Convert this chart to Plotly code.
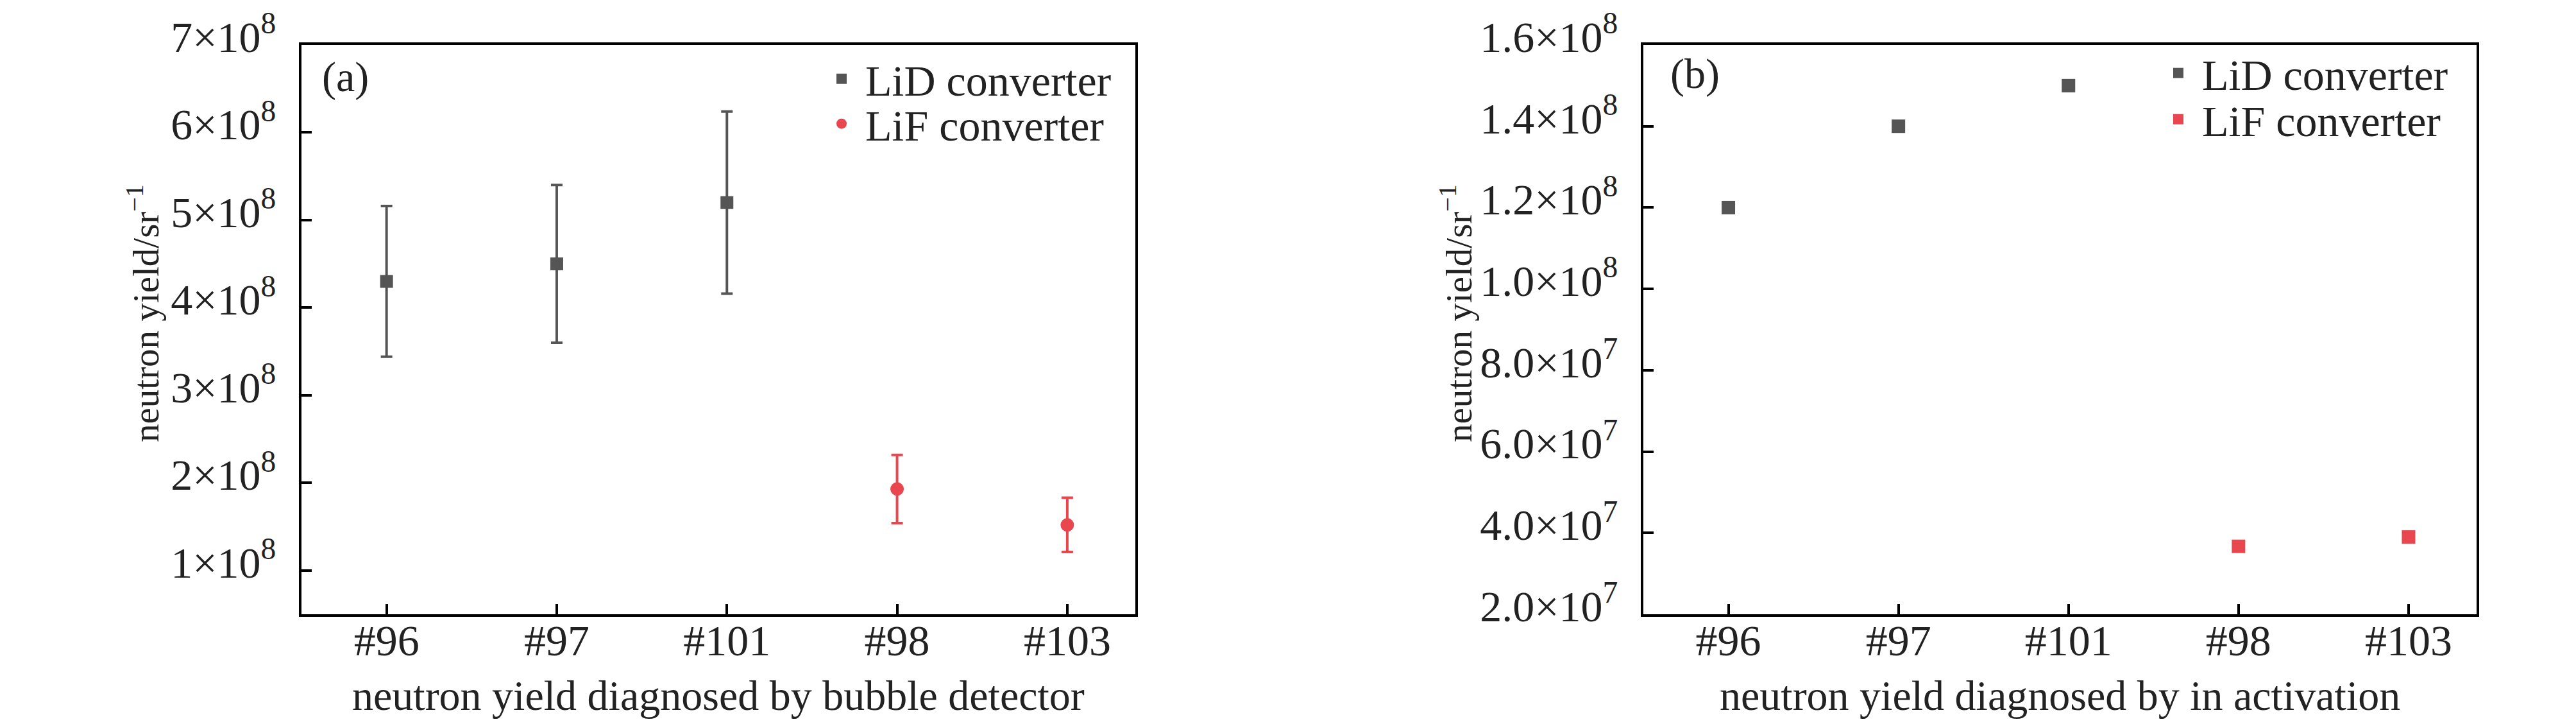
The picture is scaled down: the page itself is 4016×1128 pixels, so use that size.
import plotly.graph_objects as go

# ---------------- data ----------------
shots = ["#96", "#97", "#101", "#98", "#103"]

lid_shots = ["#96", "#97", "#101"]
lif_shots = ["#98", "#103"]

# (a) bubble detector
lid_bubble = [4.3e8, 4.5e8, 5.2e8]
lid_bubble_err = [0.86e8, 0.90e8, 1.04e8]
lif_bubble = [1.93e8, 1.52e8]
lif_bubble_err = [0.39e8, 0.31e8]

# (b) in activation
lid_act = [1.2e8, 1.4e8, 1.5e8]
lif_act = [3.67e7, 3.9e7]

ya_vals = [1e8, 2e8, 3e8, 4e8, 5e8, 6e8, 7e8]
ya_text = ["1×10<sup>8</sup>", "2×10<sup>8</sup>", "3×10<sup>8</sup>", "4×10<sup>8</sup>",
           "5×10<sup>8</sup>", "6×10<sup>8</sup>", "7×10<sup>8</sup>"]
yb_vals = [2e7, 4e7, 6e7, 8e7, 1.0e8, 1.2e8, 1.4e8, 1.6e8]
yb_text = ["2.0×10<sup>7</sup>", "4.0×10<sup>7</sup>", "6.0×10<sup>7</sup>", "8.0×10<sup>7</sup>",
           "1.0×10<sup>8</sup>", "1.2×10<sup>8</sup>", "1.4×10<sup>8</sup>", "1.6×10<sup>8</sup>"]

GRAY = "#555555"
RED = "#E8474F"
TXT = "#222222"
FONT = "Liberation Serif"
W, H = 4016, 1128

fig = go.Figure()

fig.add_trace(go.Scatter(
    x=lid_shots, y=lid_bubble, mode="markers", name="LiD converter",
    marker=dict(symbol="square", size=20, color=GRAY),
    error_y=dict(type="data", array=lid_bubble_err, visible=True, color=GRAY, thickness=4, width=9),
    xaxis="x", yaxis="y", legend="legend"))
fig.add_trace(go.Scatter(
    x=lif_shots, y=lif_bubble, mode="markers", name="LiF converter",
    marker=dict(symbol="circle", size=21, color=RED),
    error_y=dict(type="data", array=lif_bubble_err, visible=True, color=RED, thickness=4, width=9),
    xaxis="x", yaxis="y", legend="legend3"))

fig.add_trace(go.Scatter(
    x=lid_shots, y=lid_act, mode="markers", name="LiD converter",
    marker=dict(symbol="square", size=21, color=GRAY),
    xaxis="x2", yaxis="y2", legend="legend2"))
fig.add_trace(go.Scatter(
    x=lif_shots, y=lif_act, mode="markers", name="LiF converter",
    marker=dict(symbol="square", size=21, color=RED),
    xaxis="x2", yaxis="y2", legend="legend4"))

def px(v):
    return v / W

def py(v):
    return 1 - v / H

TOP, BOT = 62, 949
axis_common = dict(showline=True, linecolor="black", linewidth=4, mirror=True,
                   ticks="inside", ticklen=16, tickwidth=4, tickcolor="black",
                   showgrid=False, zeroline=False, automargin=False,
                   ticklabeloverflow="allow",
                   tickfont=dict(family=FONT, size=68, color=TXT))

xa = dict(axis_common, type="category", categoryorder="array", categoryarray=shots,
          range=[-0.5, 4.4], ticklabelstandoff=-22)
ya = dict(axis_common, tickmode="array", ticklabelstandoff=22, ticklabelshift=-13)

leg_common = dict(xanchor="left", yanchor="middle", bgcolor="rgba(0,0,0,0)",
                  borderwidth=0, itemwidth=64,
                  font=dict(family=FONT, size=68, color=TXT))

fig.update_layout(
    template="none",
    width=W, height=H, margin=dict(l=0, r=0, t=0, b=0, autoexpand=False),
    paper_bgcolor="white", plot_bgcolor="white", showlegend=True,
    xaxis=dict(xa, domain=[px(462), px(1762)], anchor="y"),
    yaxis=dict(ya, domain=[py(BOT), py(TOP)], anchor="x", range=[0.5e8, 7e8],
               tickvals=ya_vals, ticktext=ya_text),
    xaxis2=dict(xa, domain=[px(2554), px(3853)], anchor="y2"),
    yaxis2=dict(ya, domain=[py(BOT), py(TOP)], anchor="x2", range=[2e7, 1.6e8],
                tickvals=yb_vals, ticktext=yb_text),
    legend=dict(leg_common, x=px(1267), y=py(115)),
    legend3=dict(leg_common, x=px(1267), y=py(185)),
    legend2=dict(leg_common, x=px(3351), y=py(106)),
    legend4=dict(leg_common, x=px(3351), y=py(178)),
)

ann_font = dict(family=FONT, size=66, color=TXT)
ytitle_font = dict(family=FONT, size=57, color=TXT)
anns = [
    dict(text="(a)", x=px(492), y=py(112), xanchor="left", yanchor="middle"),
    dict(text="(b)", x=px(2594), y=py(107), xanchor="left", yanchor="middle"),
    dict(text="neutron yield diagnosed by bubble detector", x=px(1112), y=py(1075),
         xanchor="center", yanchor="middle"),
    dict(text="neutron yield diagnosed by in activation", x=px(3203), y=py(1075),
         xanchor="center", yanchor="middle"),
    dict(text="neutron yield/sr<sup>−1</sup>", x=px(215), y=py(480), textangle=-90,
         xanchor="center", yanchor="middle", font=ytitle_font),
    dict(text="neutron yield/sr<sup>−1</sup>", x=px(2262), y=py(480), textangle=-90,
         xanchor="center", yanchor="middle", font=ytitle_font),
]
for a in anns:
    a.update(xref="paper", yref="paper", showarrow=False)
    a.setdefault("font", ann_font)
fig.update_layout(annotations=anns)

fig.write_html("out.html")
